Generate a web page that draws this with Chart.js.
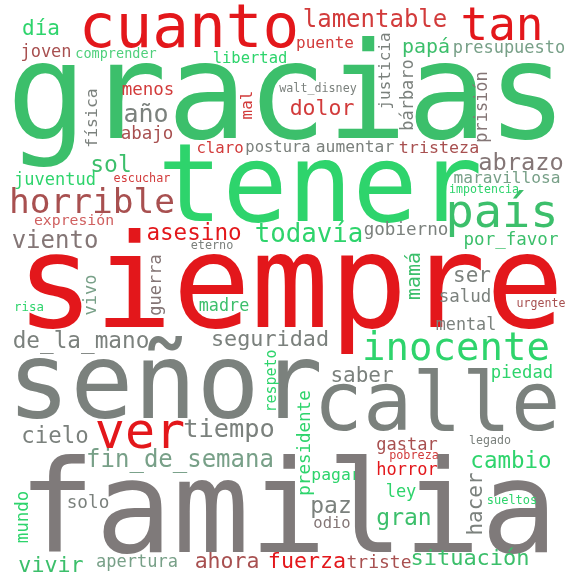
<!DOCTYPE html>
<html>
<head>
<meta charset="utf-8">
<script src="https://cdn.jsdelivr.net/npm/chart.js@4"></script>
<style>
  html, body { margin: 0; padding: 0; background: #fff; }
  canvas { display: block; }
</style>
</head>
<body>
<canvas id="cloud" width="566" height="575"></canvas>
<script>
// word cloud data: word, position (data units), weight (px), orientation, colour
const words = ['gracias','cuanto','tan','día','joven','comprender','lamentable','puente','libertad','papá',
  'presupuesto','justicia','bárbaro','menos','física','año','abajo','walt_disney','mal','dolor',
  'prisión','claro','postura','aumentar','tristeza','sol','juventud','escuchar','horrible','expresión',
  'abrazo','maravillosa','impotencia','país','tener','todavía','gobierno','asesino','eterno','viento',
  'por_favor','siempre','risa','vivo','guerra','madre','mamá','ser','salud','urgente',
  'de_la_mano','seguridad','mental','inocente','señor','calle','saber','respeto','piedad','cielo',
  'ver','tiempo','fin_de_semana','legado','gastar','pobreza','horror','cambio','presidente','pagar',
  'paz','ley','hacer','mundo','solo','familia','odio','sueltos','gran','vivir',
  'apertura','ahora','fuerza','triste','situación'];
const xPos = [287,189,502,41,46,116,375,325,250,426,
  509,390,413,148,97,146,147,318,252,322,
  487,220,278,355,439,111,55,142,92,74,
  521,507,484,502,320,309,406,194,212,55,
  511,290,29,96,161,224,420,472,465,541,
  81,270,466,456,165,437,362,276,522,55,
  140,229,180,490,407,414,407,511,310,336,
  331,401,482,28,88,288,332,512,404,51,
  137,227,307,379,470];
const yPos = [138,47,40,35,57,58,27,48,63,53,
  53,71,95,95,118,122,139,92,105,115,
  107,153,152,152,153,172,185,182,213,225,
  170,183,193,227,221,242,235,240,249,248,
  245,327,311,295,285,311,276,282,302,307,
  348,346,330,360,418,430,382,381,378,443,
  448,437,467,444,450,459,475,468,443,480,
  513,497,504,517,508,552,528,504,525,572,
  567,568,568,568,565];
const weights = [133,61,46,21,17,13.5,24,16,15.5,20,
  17,16,17,17.5,16.5,25,17.5,11.7,16,21.5,
  17,15.7,15.5,16.3,16.7,23,17,11.8,34.5,14.8,
  23.7,16.2,11.6,47,108,25.8,17.6,22.6,11.8,24,
  17.5,130,12.4,17,17,16.8,20,21,17.5,11.6,
  22.7,21.8,16.8,39,105,82,21,15,17.3,22.4,
  50,25.4,24,11.6,17,11.8,17,22.5,17.5,16.4,
  23,17,21,17.5,17.7,128,15.5,12,23,21.7,
  17,21.5,21.7,18,22];
const vertical = [0,0,0,0,0,0,0,0,0,0,
  0,1,1,0,1,0,0,0,1,0,
  1,0,0,0,0,0,0,0,0,0,
  0,0,0,0,0,0,0,0,0,0,
  0,0,0,1,1,0,1,0,0,0,
  0,0,0,0,0,0,0,1,0,0,
  0,0,0,0,0,0,0,0,1,0,
  0,0,1,1,0,0,0,0,0,0,
  0,0,0,0,0];

const G1 = '#3cbf6b', G2 = '#2ed46c', G3 = '#4fd07c';
const R1 = '#e3171b', R2 = '#a85050', R3 = '#d23b3b', R4 = '#d06060';
const GR = '#7b817d', GB = '#847676', GG = '#78a088', FA = '#7f7a7a';
const colors = [G1,R1,R1,G2,R2,G3,R3,R3,G2,G1,
  GG,GR,GR,R3,GR,GR,R2,GR,R3,R3,
  GB,R3,GR,GR,R2,G1,G2,R3,R2,R4,
  GB,GG,G2,G1,G2,G2,GR,R1,GR,GB,
  G1,R1,G2,GG,GB,G1,G1,GR,GR,R2,
  GR,GR,GR,G2,GR,GR,GR,G2,G2,GR,
  R1,GR,GG,GR,R2,R3,R1,G2,G2,G2,
  GR,G2,GR,G2,GR,FA,GB,G2,G1,G1,
  GG,R2,R1,R2,G1];

const wordPlugin = {
    id: 'wordPlugin',
    afterDatasetsDraw(chart) {
        const ctx = chart.ctx;
        const meta = chart.getDatasetMeta(0);
        meta.data.forEach((pt, i) => {
            ctx.save();
            ctx.translate(pt.x, pt.y);
            if (vertical[i]) ctx.rotate(-Math.PI / 2);
            ctx.font = `${weights[i]}px "DejaVu Sans Mono"`;
            ctx.fillStyle = colors[i];
            ctx.textAlign = 'center';
            ctx.textBaseline = 'alphabetic';
            ctx.fillText(words[i], 0, 0);
            ctx.restore();
        });
    }
};

new Chart(document.getElementById('cloud').getContext('2d'), {
    type: 'scatter',
    data: {
        datasets: [{
            data: words.map((w, i) => ({ x: xPos[i], y: yPos[i] })),
            pointRadius: 0,
            pointHoverRadius: 0
        }]
    },
    options: {
        responsive: false,
        animation: false,
        layout: { padding: 0 },
        scales: {
            x: { type: 'linear', min: 0, max: 566, display: false },
            y: { type: 'linear', min: 0, max: 575, reverse: true, display: false }
        },
        plugins: { legend: { display: false }, tooltip: { enabled: false } }
    },
    plugins: [wordPlugin]
});
</script>
</body>
</html>
